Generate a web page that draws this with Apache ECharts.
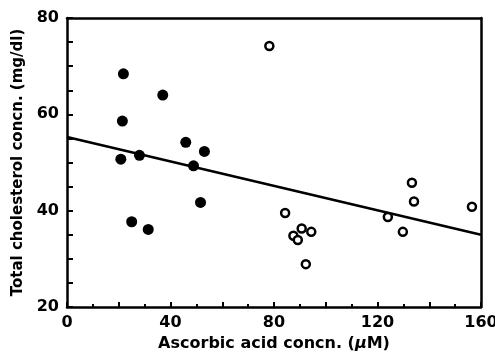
<!DOCTYPE html>
<html>
<head>
<meta charset="utf-8">
<script src="https://cdn.jsdelivr.net/npm/echarts@6/dist/echarts.min.js"></script>
<style>
  html, body { margin: 0; padding: 0; background: #fff; }
  #chart { width: 495px; height: 355px; }
</style>
</head>
<body>
<div id="chart"></div>
<script>
// filled circles: [ascorbic acid (uM), total cholesterol (mg/dl)]
const filledPoints = [
  [21.8, 68.4], [21.4, 58.6], [37.0, 64.0], [45.9, 54.2], [53.1, 52.3],
  [20.8, 50.7], [28.0, 51.5], [48.9, 49.3], [25.0, 37.7], [31.4, 36.1],
  [51.6, 41.7],
];
// open circles
const openPoints = [
  [78.2, 74.2], [84.3, 39.5], [90.7, 36.3], [87.5, 34.8], [89.2, 33.9],
  [94.4, 35.6], [92.3, 28.9], [124.0, 38.7], [129.8, 35.6], [133.3, 45.8],
  [134.1, 41.9], [156.5, 40.8],
];
// regression line end points
const fitLine = [[0, 55.3], [160, 35.0]];

const xLabels = [0, 40, 80, 120, 160];
const yLabels = [20, 40, 60, 80];

const font = '"DejaVu Sans", Verdana, sans-serif';
const lineStyle = { color: '#000', width: 2.5 };

const chart = echarts.init(document.getElementById('chart'));
const option = {
  animation: false,
  backgroundColor: '#fff',
  grid: { left: 67, top: 18, right: 14, bottom: 48, outerBoundsMode: 'none', containLabel: false },
  xAxis: [
    {
      type: 'value',
      min: 0, max: 160, interval: 20,
      name: 'Ascorbic acid concn. ({mu|μ}M)',
      nameLocation: 'middle',
      nameGap: 29,
      nameTextStyle: {
        fontFamily: font, fontWeight: 'bold', fontSize: 16, color: '#000',
        rich: { mu: { fontFamily: font, fontWeight: 'bold', fontStyle: 'italic', fontSize: 16, color: '#000' } },
      },
      axisLine: { show: true, onZero: false, lineStyle: lineStyle },
      axisTick: { show: true, inside: true, length: 5, lineStyle: { color: '#000', width: 2 } },
      minorTick: { show: true, splitNumber: 2, length: 3, lineStyle: { color: '#000', width: 2 } },
      splitLine: { show: false },
      axisLabel: {
        margin: 8,
        fontFamily: font, fontWeight: 'bold', fontSize: 16, color: '#000',
        formatter: v => (xLabels.includes(v) ? String(v) : ''),
      },
    },
    {
      type: 'value',
      position: 'top',
      min: 0, max: 160,
      axisLine: { show: true, onZero: false, lineStyle: lineStyle },
      axisTick: { show: false },
      axisLabel: { show: false },
      splitLine: { show: false },
    },
  ],
  yAxis: [
    {
      type: 'value',
      min: 20, max: 80, interval: 5,
      name: 'Total cholesterol concn. (mg/dl)',
      nameLocation: 'middle',
      nameGap: 36,
      nameTextStyle: { fontFamily: font, fontWeight: 'bold', fontSize: 15, color: '#000' },
      axisLine: { show: true, onZero: false, lineStyle: lineStyle },
      axisTick: { show: true, inside: true, length: 6, lineStyle: { color: '#000', width: 2 } },
      splitLine: { show: false },
      axisLabel: {
        margin: 8,
        fontFamily: font, fontWeight: 'bold', fontSize: 16, color: '#000',
        formatter: v => (yLabels.includes(v) ? String(v) : ''),
      },
    },
    {
      type: 'value',
      position: 'right',
      min: 20, max: 80,
      axisLine: { show: true, onZero: false, lineStyle: lineStyle },
      axisTick: { show: false },
      axisLabel: { show: false },
      splitLine: { show: false },
    },
  ],
  series: [
    {
      type: 'line',
      data: fitLine,
      symbol: 'none',
      lineStyle: lineStyle,
      z: 1,
    },
    {
      type: 'scatter',
      data: filledPoints,
      symbol: 'circle',
      symbolSize: 11,
      itemStyle: { color: '#000', opacity: 1 },
      z: 3,
    },
    {
      type: 'scatter',
      data: openPoints,
      symbol: 'circle',
      symbolSize: 8,
      itemStyle: { color: '#fff', borderColor: '#000', borderWidth: 2.5, opacity: 1 },
      z: 3,
    },
  ],
};
chart.setOption(option);
</script>
</body>
</html>
